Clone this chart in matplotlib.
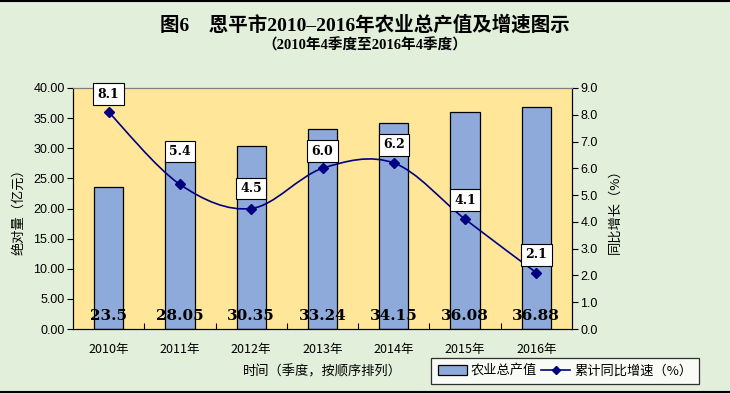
import matplotlib
matplotlib.use("Agg")
import matplotlib.pyplot as plt
import numpy as np
from matplotlib.path import Path
from matplotlib.patches import PathPatch
from matplotlib.lines import Line2D
from matplotlib.patches import Patch

plt.rcParams['font.family'] = ['Noto Sans CJK SC', 'DejaVu Sans']

years = ['2010年', '2011年', '2012年', '2013年', '2014年', '2015年', '2016年']
output = [23.5, 28.05, 30.35, 33.24, 34.15, 36.08, 36.88]
output_labels = ['23.5', '28.05', '30.35', '33.24', '34.15', '36.08', '36.88']
growth = [8.1, 5.4, 4.5, 6.0, 6.2, 4.1, 2.1]

# label box offsets above the points (pixels)
label_offset = [18, 33, 20, 17, 18, 19, 18]

bg = '#E2EFDA'
plot_bg = '#FFE699'
bar_color = '#8EAADB'
line_color = '#000080'
serif_cjk = ['Liberation Serif', 'Noto Sans CJK SC']


def smooth_path(xs, ys):
    # Excel style smoothed line (Catmull-Rom -> cubic bezier)
    pts = np.column_stack([xs, ys]).astype(float)
    n = len(pts)
    verts = [pts[0]]
    codes = [Path.MOVETO]
    for i in range(n - 1):
        p0 = pts[i - 1] if i > 0 else pts[i]
        p1 = pts[i]
        p2 = pts[i + 1]
        p3 = pts[i + 2] if i + 2 < n else pts[i + 1]
        c1 = p1 + (p2 - p0) / 6
        c2 = p2 - (p3 - p1) / 6
        verts += [c1, c2, p2]
        codes += [Path.CURVE4] * 3
    return Path(verts, codes)


fig = plt.figure(figsize=(7.3, 3.94), dpi=100, facecolor=bg)
ax = fig.add_axes([73 / 730, 1 - 329 / 394, (572 - 73) / 730, (329 - 88) / 394])
ax.set_facecolor(plot_bg)
x = np.arange(len(years))

ax.bar(x, output, width=0.41, color=bar_color, edgecolor='black', linewidth=0.9, zorder=2)
for i, lab in enumerate(output_labels):
    ax.text(i, 2.2, lab, ha='center', va='center', fontsize=11, fontweight='bold',
            family='DejaVu Serif', zorder=5)

ax.set_xlim(-0.5, len(years) - 0.5)
ax.set_ylim(0, 40)
ax.set_yticks(np.arange(0, 40.1, 5))
ax.set_yticklabels([f'{v:.2f}' for v in np.arange(0, 40.1, 5)], family='Liberation Sans', fontsize=9)
ax.set_xticks(x)
ax.set_xticklabels(years, fontsize=9)
ax.set_xticks(np.arange(0.5, len(years) - 0.5, 1), minor=True)
ax.tick_params(axis='x', which='major', length=0, pad=10)
ax.tick_params(axis='x', which='minor', direction='in', length=4, width=0.8)
ax.tick_params(axis='y', direction='out', length=4, width=0.8, pad=2)
ax.set_xlabel('时间（季度，按顺序排列）', fontsize=9.5, labelpad=7)
ax.set_ylabel('绝对量（亿元）', fontsize=9.5, labelpad=6)
ax.spines['top'].set_color('#808080')
for s in ['left', 'bottom', 'right']:
    ax.spines[s].set_color('black')

ax2 = ax.twinx()
ax2.set_ylim(0, 9)
ax2.set_yticks(np.arange(0, 9.1, 1))
ax2.set_yticklabels([f'{v:.1f}' for v in np.arange(0, 9.1, 1)], family='Liberation Sans', fontsize=9)
ax2.tick_params(axis='y', direction='out', length=4, width=0.8, pad=2)
ax2.set_ylabel('同比增长（%）', fontsize=9.5, labelpad=8)
ax2.spines['top'].set_color('#808080')
ax2.spines['right'].set_color('black')

ax2.add_patch(PathPatch(smooth_path(x, growth), facecolor='none', edgecolor=line_color,
                        linewidth=1.2, zorder=3))
ax2.plot(x, growth, linestyle='none', marker='D', markersize=5, color=line_color, zorder=4)
for i, g in enumerate(growth):
    ax2.annotate(f'{g:.1f}', (i, g), xytext=(0, label_offset[i]), textcoords='offset pixels',
                 ha='center', va='center', fontsize=9, fontweight='bold', family='DejaVu Serif',
                 bbox=dict(boxstyle='square,pad=0.35', facecolor='white', edgecolor='black', linewidth=0.8),
                 zorder=6)

fig.text(0.5, 1 - 25 / 394, '图6　恩平市2010–2016年农业总产值及增速图示', ha='center', va='center',
         fontsize=14, fontweight='bold', family=serif_cjk)
fig.text(0.5, 1 - 45 / 394, '（2010年4季度至2016年4季度）', ha='center', va='center',
         fontsize=10.5, fontweight='bold', family=serif_cjk)

handles = [Patch(facecolor=bar_color, edgecolor='black', linewidth=0.9),
           Line2D([0], [0], color=line_color, marker='D', markersize=4, linewidth=1.2)]
leg = fig.legend(handles, ['农业总产值', '累计同比增速（%）'], loc='center',
                 bbox_to_anchor=(565 / 730, 1 - 371 / 394), ncol=2, fontsize=9.5, frameon=True,
                 fancybox=False, edgecolor='black', handlelength=2.2, handletextpad=0.3,
                 columnspacing=0.3, borderpad=0.5, borderaxespad=0, facecolor='white')
leg.get_frame().set_linewidth(0.9)

# figure border lines
fig.add_artist(Line2D([0, 1], [0.998, 0.998], color='black', linewidth=1.5, transform=fig.transFigure))
fig.add_artist(Line2D([0, 1], [0.004, 0.004], color='black', linewidth=1.5, transform=fig.transFigure))

fig.savefig('out.png', dpi=100, facecolor=bg)
